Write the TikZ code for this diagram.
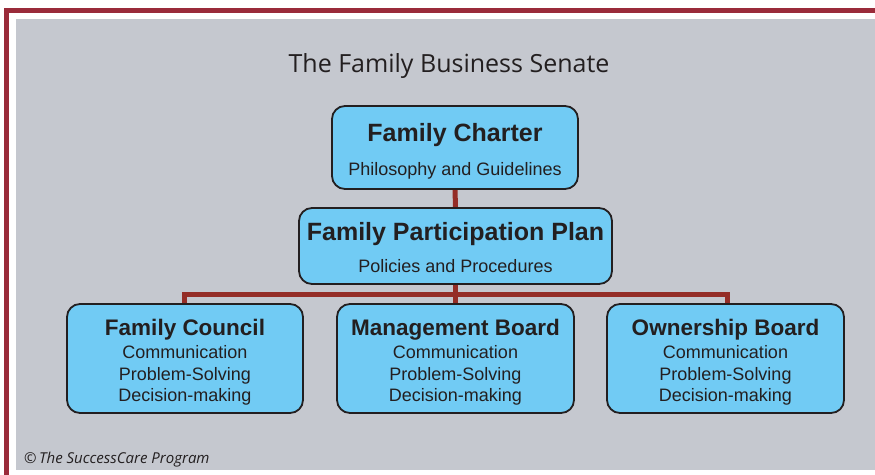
\documentclass[tikz,border=0pt]{standalone}
\usepackage{fontspec}
\setmainfont{Liberation Sans}
\newfontfamily\titlefont{Open Sans}
\usetikzlibrary{backgrounds}
\definecolor{framered}{HTML}{9A2B3A}
\definecolor{panelgray}{HTML}{C5C8CF}
\definecolor{boxblue}{HTML}{71CBF4}
\definecolor{textdark}{HTML}{231F20}
\definecolor{linkred}{HTML}{942D27}
\begin{document}
\begin{tikzpicture}[x=1pt,y=-1pt,
  box/.style={draw=textdark, line width=1.8pt, fill=boxblue, rounded corners=13pt, inner sep=0pt},
  link/.style={draw=linkred, line width=5pt},
  head/.style={anchor=base, text=textdark, font=\bfseries\fontsize{25}{25}\selectfont},
  subhead/.style={anchor=base, text=textdark, font=\bfseries\fontsize{22.5}{22.5}\selectfont},
  body/.style={anchor=base, text=textdark, font=\fontsize{18}{18}\selectfont},
  every node/.style={inner sep=0pt}]
\useasboundingbox (0,0) rectangle (875,474);
\begin{pgfonlayer}{background}
  \fill[white] (0,0) rectangle (875,474);
  \fill[panelgray] (16,19) rectangle (875,470);
  \draw[framered, line width=5pt] (6.5,480) -- (6.5,10) -- (880,10);
\end{pgfonlayer}

\node[anchor=base, text=textdark, font=\titlefont\fontsize{25}{25}\selectfont] (title) at (449,72) {The Family Business Senate};

\node[box, minimum width=246pt, minimum height=83pt] (charter) at (455,147.5) {};
\node[head] (charterT) at (455,141) {Family Charter};
\node[body] (charterS) at (455,175) {Philosophy and Guidelines};

\node[box, minimum width=313pt, minimum height=76pt] (fpp) at (455.5,246) {};
\node[head] (fppT) at (455.5,240) {Family Participation Plan};
\node[body] (fppS) at (455.5,272) {Policies and Procedures};

\node[box, minimum width=236pt, minimum height=109pt] (fc) at (185,358.5) {};
\node[box, minimum width=237pt, minimum height=109pt] (mb) at (455.5,358.5) {};
\node[box, minimum width=237pt, minimum height=109pt] (ob) at (725.5,358.5) {};

\foreach \n/\x/\t in {fc/185/Family Council, mb/455.5/Management Board, ob/725.5/Ownership Board}{
  \node[subhead] (\n T) at (\x,335) {\t};
  \node[body] (\n A) at (\x,358) {Communication};
  \node[body] (\n B) at (\x,380) {Problem-Solving};
  \node[body] (\n C) at (\x,401) {Decision-making};
}

\coordinate (bus) at (455.5,294);
\begin{pgfonlayer}{background}
  \draw[link] (charter.south) -- (fpp.north);
  \draw[link] (fpp.south) -- (mb.north);
  \draw[link] ([xshift=-1pt]fc.north) |- (bus) -| ([xshift=1.5pt]ob.north);
\end{pgfonlayer}

\node[anchor=base west, text=textdark, font=\titlefont\itshape\fontsize{15}{15}\selectfont] (credit) at (24,463) {\textcopyright\,The SuccessCare Program};
\end{tikzpicture}
\end{document}
